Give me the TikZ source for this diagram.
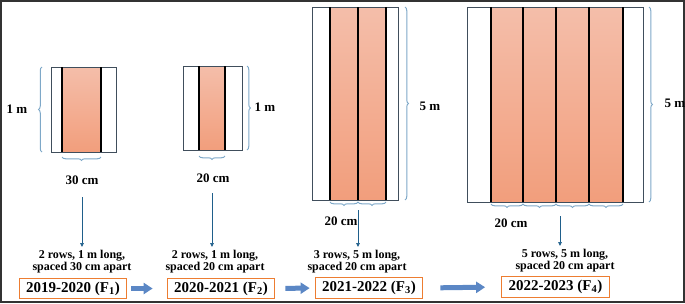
\documentclass[tikz,border=0pt]{standalone}
\usepackage{fontspec}
\setmainfont{Liberation Serif}
\usetikzlibrary{arrows.meta,decorations.pathreplacing,positioning}

\definecolor{plotedge}{RGB}{64,78,92}
\definecolor{salmontop}{RGB}{244,190,170}
\definecolor{salmonbot}{RGB}{242,158,124}
\definecolor{bracecol}{RGB}{126,168,200}
\definecolor{dimcol}{RGB}{31,95,139}
\definecolor{yearcol}{RGB}{237,125,49}
\definecolor{stepcol}{RGB}{91,135,197}

\tikzset{
  plot/.style={draw=plotedge, line width=0.9pt},
  crop/.style={top color=salmontop, bottom color=salmonbot},
  row/.style={line width=2.4pt, black},
  bracket/.style={draw=bracecol, line width=1pt,
    decorate, decoration={brace, amplitude=3.5pt}},
  dimlabel/.style={font=\bfseries\fontsize{13}{14}\selectfont},
  dimarrow/.style={draw=dimcol, line width=0.7pt,
    -{Triangle[length=4pt,width=3.5pt]}},
  note/.style={align=center, font=\bfseries\fontsize{12}{10.8}\selectfont},
  year/.style={draw=yearcol, line width=1.1pt, fill=white,
    inner xsep=7pt, minimum height=19pt,
    font=\bfseries\fontsize{15}{16}\selectfont},
  nextyear/.style={draw=stepcol, line width=5pt,
    -{Triangle[length=9pt,width=11pt]}}
}

\begin{document}
\begin{tikzpicture}[x=1pt,y=-1pt]
  \useasboundingbox (0,0) rectangle (685,303);
  \draw[line width=1.6pt, black!80] (1,1) rectangle (684,302);

  % F1: two rows, 30 cm
  \shade[crop] (62,67) rectangle (101,152);
  \draw[plot] (51,67) rectangle (116,152);
  \foreach \x in {62,101} \draw[row] (\x,67) -- (\x,152);
  \draw[bracket] (42,152) -- (42,67);
  \node[dimlabel] (len1) at (17,109) {1 m};
  \draw[bracket] (101,157) -- (62,157);
  \node[dimlabel] (gap1) at (82,180) {30 cm};

  % F2: two rows, 20 cm
  \shade[crop] (199,66) rectangle (225,150);
  \draw[plot] (183,66) rectangle (242,150);
  \foreach \x in {199,225} \draw[row] (\x,66) -- (\x,150);
  \draw[bracket] (247,66) -- (247,150);
  \node[dimlabel, anchor=west] (len2) at (251,107) {1 m};
  \draw[bracket] (225,156) -- (199,156);
  \node[dimlabel] (gap2) at (213,178) {20 cm};

  % F3: three rows, 20 cm
  \shade[crop] (330,7) rectangle (386,200);
  \draw[plot] (312,7) rectangle (398,200);
  \foreach \x in {330,358,386} \draw[row] (\x,7) -- (\x,200);
  \draw[bracket] (405,7) -- (405,200);
  \node[dimlabel, anchor=west] (len3) at (416,106) {5 m};
  \foreach \x/\y in {330/358,358/386} \draw[bracket] (\y,202) -- (\x,202);
  \node[dimlabel] (gap3) at (341,221) {20 cm};

  % F4: five rows, 20 cm
  \shade[crop] (491,7) rectangle (623,202);
  \draw[plot] (467,7) rectangle (643,202);
  \foreach \x in {491,523,556,589,623} \draw[row] (\x,7) -- (\x,202);
  \draw[bracket] (649,7) -- (649,202);
  \node[dimlabel, anchor=west] (len4) at (661,103) {5 m};
  \foreach \x/\y in {491/523,523/556,556/589,589/623} \draw[bracket] (\y,204) -- (\x,204);
  \node[dimlabel] (gap4) at (511,223) {20 cm};

  % notes
  \node[note] (txt1) at (82,262) {2 rows, 1 m long,\\spaced 30 cm apart};
  \node[note] (txt2) at (215,262) {2 rows, 1 m long,\\spaced 20 cm apart};
  \node[note] (txt3) at (357,262) {3 rows, 5 m long,\\spaced 20 cm apart};
  \node[note] (txt4) at (565,261) {5 rows, 5 m long,\\spaced 20 cm apart};

  \coordinate (a1) at (82,197);
  \coordinate (a2) at (212,193);
  \coordinate (a3) at (358,210);
  \coordinate (a4) at (560,216);
  \draw[dimarrow] (a1) -- (a1 |- txt1.north);
  \draw[dimarrow] (a2) -- (a2 |- txt2.north);
  \draw[dimarrow] (a3) -- (a3 |- txt3.north);
  \draw[dimarrow] (a4) -- (a4 |- txt4.north);

  % years
  \node[year] (yr1) at (73,288.5) {2019-2020 (F\textsubscript{1})};
  \node[year] (yr2) at (221,288.5) {2020-2021 (F\textsubscript{2})};
  \node[year] (yr3) at (369,288) {2021-2022 (F\textsubscript{3})};
  \node[year] (yr4) at (555.5,287) {2022-2023 (F\textsubscript{4})};

  \draw[nextyear, shorten <=4pt, shorten >=14pt] (yr1.east) -- (yr2.west);
  \draw[nextyear, shorten <=10pt, shorten >=5pt] (yr2.east) -- (yr3.west);
  \draw[nextyear, shorten <=17pt, shorten >=16pt] (yr3.east) -- (yr4.west);
\end{tikzpicture}
\end{document}
